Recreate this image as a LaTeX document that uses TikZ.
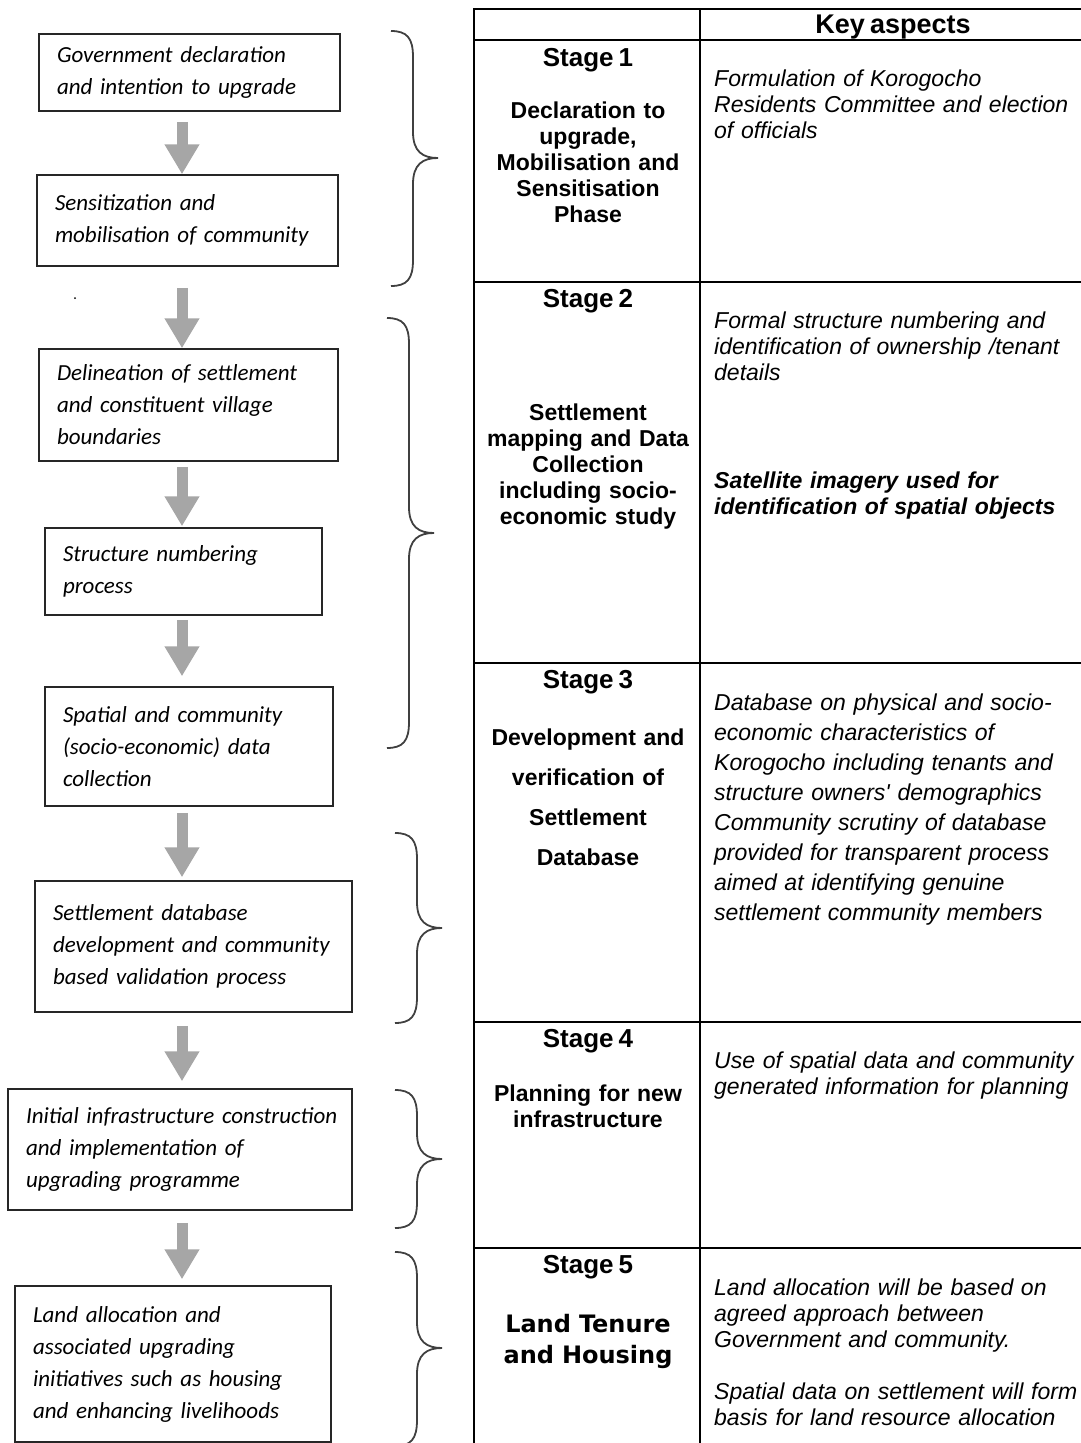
\documentclass[tikz,border=0pt]{standalone}
\usepackage{fontspec}
\usetikzlibrary{arrows.meta, positioning, calc}
\newfontfamily\boxfont{Carlito}
\newfontfamily\cellfont{Liberation Sans}[WordSpace=0.7]
\newfontfamily\tenurefont{DejaVu Sans}
\definecolor{arrowgrey}{HTML}{A6A6A6}
\definecolor{bracegrey}{HTML}{404040}
\tikzset{
    stepbox/.style={draw=black!85, line width=1.5pt, align=left, inner xsep=18pt, inner ysep=0pt,
        font=\boxfont\itshape\fontsize{23}{32}\selectfont},
    flowarrow/.style={draw=arrowgrey, line width=11pt, -{Triangle[width=33pt,length=30pt]}},
    stagebrace/.style={draw=bracegrey, line width=1.8pt},
    tabline/.style={draw=black, line width=2pt},
    stagehead/.style={font=\cellfont\bfseries\fontsize{26}{26}\selectfont, anchor=base, inner sep=0pt},
    stagetext/.style={font=\cellfont\bfseries\fontsize{23}{26}\selectfont, anchor=base, align=center,
        text width=220pt, inner sep=0pt},
    keytext/.style={font=\cellfont\itshape\fontsize{23}{26}\selectfont, anchor=base west, align=left,
        text width=380pt, inner sep=0pt},
}
% brace: x of the ends, top, tip, bottom
\newcommand{\StageBrace}[4]{
    \draw[stagebrace] (#1,#2) .. controls (#1+16,#2) and (#1+22,#2+7) .. (#1+22,#2+26)
        -- (#1+22,#3-26) .. controls (#1+22,#3-6) and (#1+32,#3) .. (#1+47,#3)
        .. controls (#1+32,#3) and (#1+22,#3+6) .. (#1+22,#3+26)
        -- (#1+22,#4-26) .. controls (#1+22,#4-7) and (#1+16,#4) .. (#1,#4);
}

\begin{document}
\begin{tikzpicture}[x=1pt, y=-1pt]
    \useasboundingbox (0,0) rectangle (1080,1443);
    \coordinate (ax) at (182,0);

    % flow boxes
    \node[stepbox, text width=265pt, minimum height=77pt] (b1) at (189.5,72.5)
        {Government declaration\\and intention to upgrade};
    \node[stepbox, text width=265pt, minimum height=91pt] (b2) at (187.5,220.5)
        {Sensitization and\\mobilisation of community};
    \node[stepbox, text width=263pt, minimum height=112pt] (b3) at (188.5,405)
        {Delineation of settlement\\and constituent village\\boundaries};
    \node[stepbox, text width=241pt, minimum height=87pt] (b4) at (183.5,571.5)
        {Structure numbering\\process};
    \node[stepbox, text width=252pt, minimum height=119pt] (b5) at (189,746.5)
        {Spatial and community\\(socio-economic) data\\collection};
    \node[stepbox, text width=281pt, minimum height=131pt] (b6) at (193.5,946.5)
        {Settlement database\\development and community\\based validation process};
    \node[stepbox, text width=308pt, minimum height=121pt] (b7) at (180,1149.5)
        {\mbox{Initial infrastructure construction}\\and implementation of\\upgrading programme};
    \node[stepbox, text width=280pt, minimum height=156pt] (b8) at (173,1364)
        {Land allocation and\\associated upgrading\\initiatives such as housing\\and enhancing livelihoods};

    % arrows between boxes
    \draw[flowarrow, shorten <=10pt] (b1.south -| ax) -- (b2.north -| ax);
    \draw[flowarrow, shorten <=21pt] (b2.south -| ax) -- (b3.north -| ax);
    \draw[flowarrow, shorten <=5pt, shorten >=1pt] (b3.south -| ax) -- (b4.north -| ax);
    \draw[flowarrow, shorten <=4pt, shorten >=10pt] (b4.south -| ax) -- (b5.north -| ax);
    \draw[flowarrow, shorten <=6pt, shorten >=3pt] (b5.south -| ax) -- (b6.north -| ax);
    \draw[flowarrow, shorten <=13pt, shorten >=7pt] (b6.south -| ax) -- (b7.north -| ax);
    \draw[flowarrow, shorten <=12pt, shorten >=6pt] (b7.south -| ax) -- (b8.north -| ax);
    \fill (75,298) circle (1pt);

    % braces
    \StageBrace{391}{31}{158}{286}
    \StageBrace{387}{318}{533}{748}
    \StageBrace{395}{833}{928}{1023}
    \StageBrace{395}{1090}{1159}{1228}
    \StageBrace{395}{1252}{1348}{1446}

    % table
    \draw[tabline] (474,1460) -- (474,9) -- (1100,9);
    \draw[tabline] (700,9) -- (700,1460);
    \foreach \ry in {40,282,663,1022,1248}
        \draw[tabline] (474,\ry) -- (1100,\ry);
    \node[stagehead, font=\cellfont\bfseries\fontsize{27}{27}\selectfont] (keyhead) at (893,33) {Key aspects};

    \node[stagehead] (s1) at (588,66) {Stage 1};
    \node[stagetext] (d1) at (588,118) {Declaration to\\upgrade,\\Mobilisation and\\Sensitisation\\Phase};
    \node[stagehead] (s2) at (588,307) {Stage 2};
    \node[stagetext] (d2) at (588,420) {Settlement\\mapping and Data\\Collection\\including socio-\\economic study};
    \node[stagehead] (s3) at (588,688) {Stage 3};
    \node[stagetext, font=\cellfont\bfseries\fontsize{23}{40}\selectfont] (d3) at (588,745)
        {Development and\\verification of\\Settlement\\Database};
    \node[stagehead] (s4) at (588,1047) {Stage 4};
    \node[stagetext] (d4) at (588,1101) {Planning for new\\infrastructure};
    \node[stagehead] (s5) at (588,1273) {Stage 5};
    \node[stagetext, font=\tenurefont\bfseries\fontsize{24}{31}\selectfont] (d5) at (588,1332)
        {Land Tenure\\and Housing};

    % key aspects
    \node[keytext] (k1) at (714,86) {Formulation of Korogocho\\Residents Committee and election\\of officials};
    \node[keytext] (k2) at (714,328) {Formal structure numbering and\\identification of ownership /tenant\\details};
    \node[keytext, font=\cellfont\bfseries\itshape\fontsize{23}{26}\selectfont] (k2b) at (714,488)
        {Satellite imagery used for\\identification of spatial objects};
    \node[keytext, font=\cellfont\itshape\fontsize{23}{30}\selectfont] (k3) at (714,710)
        {Database on physical and socio-\\economic characteristics of\\Korogocho including tenants and\\structure owners' demographics\\Community scrutiny of database\\provided for transparent process\\aimed at identifying genuine\\settlement community members};
    \node[keytext] (k4) at (714,1068) {Use of spatial data and community\\generated information for planning};
    \node[keytext] (k5) at (714,1295) {Land allocation will be based on\\agreed approach between\\Government and community.\\[26pt]Spatial data on settlement will form\\basis for land resource allocation};
\end{tikzpicture}
\end{document}
